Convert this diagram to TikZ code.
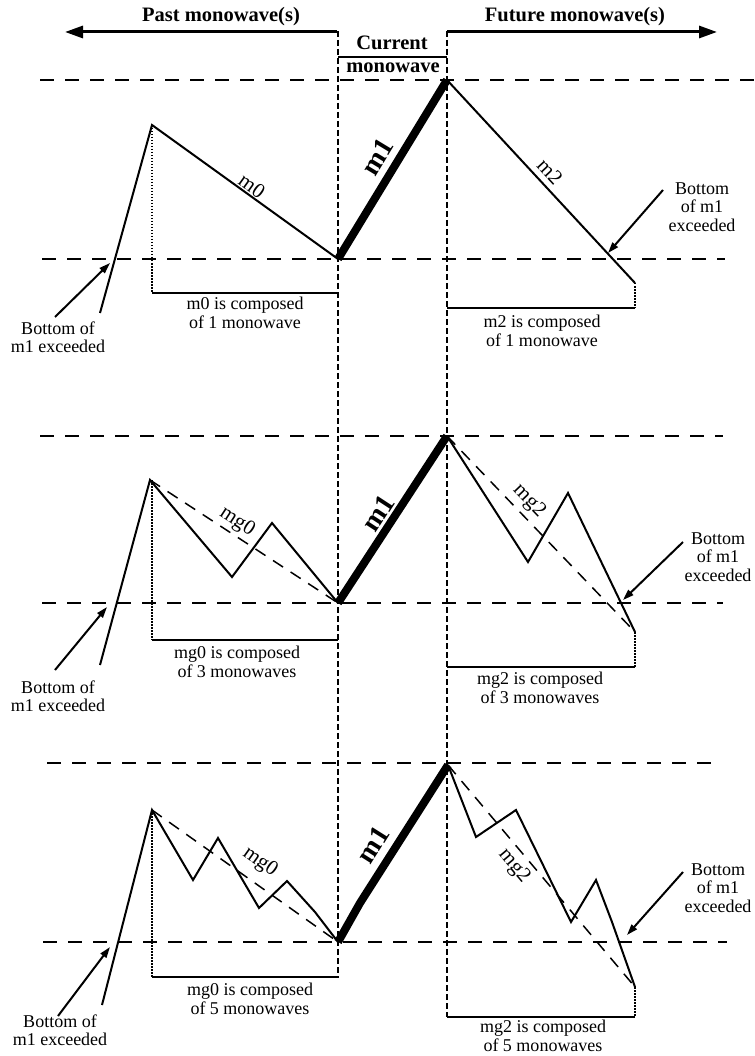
\documentclass[tikz,border=0pt]{standalone}
\usepackage{fontspec}
\setmainfont{Liberation Serif}
\usetikzlibrary{arrows.meta}
\tikzset{
  hdr/.style={font=\bfseries\fontsize{20.5}{21}\selectfont, inner sep=0pt},
  txt/.style={font=\fontsize{18}{18.5}\selectfont, align=center, inner sep=0pt},
  wl/.style={font=\fontsize{21}{21}\selectfont, inner sep=0pt},
  ml/.style={font=\bfseries\fontsize{28}{28}\selectfont, inner sep=0pt},
  hd/.style={line width=1.8pt, dash pattern=on 14pt off 11pt},
  vd/.style={line width=1.6pt, dash pattern=on 6pt off 3pt},
  dt/.style={line width=1.6pt, dash pattern=on 1.5pt off 1.5pt},
  wave/.style={line width=2pt, line join=miter},
  mone/.style={line width=8pt},
  md/.style={line width=1.5pt, dash pattern=on 12pt off 9pt},
  br/.style={line width=1.8pt},
  ann/.style={line width=2pt, -{Triangle[length=11pt,width=7pt]}},
  harrow/.style={line width=3pt, -{Triangle[length=18pt,width=12pt]}}
}
\begin{document}
\begin{tikzpicture}[x=1pt,y=-1pt]
\useasboundingbox (0,0) rectangle (754,1056);
% ---------------- header
\coordinate (LA) at (337,32); \coordinate (LT) at (65,32);
\coordinate (RA) at (447,32); \coordinate (RT) at (717,32);
\node[hdr] (past) at (221,17) {Past monowave(s)};
\node[hdr] (fut) at (575,17) {Future monowave(s)};
\node[hdr] (cur) at (392,43) {Current};
\node[hdr] (curm) at (393,68) {monowave};
\draw[harrow] (LA) -- (LT);
\draw[harrow] (RA) -- (RT);
\coordinate (CB1) at (338,57); \coordinate (CB2) at (447,57);
\draw[br] (CB1) -- (CB2);
\coordinate (VL1) at (338,31); \coordinate (VL2) at (338,978);
\coordinate (VR1) at (447,31); \coordinate (VR2) at (447,1017);
\draw[vd] (VL1) -- (VL2);
\draw[vd] (VR1) -- (VR2);

% ---------------- panel 1
\coordinate (t1a) at (40,80); \coordinate (t1b) at (754,80);
\coordinate (b1a) at (42,259); \coordinate (b1b) at (725,259);
\draw[hd] (t1a) -- (t1b);
\draw[hd] (b1a) -- (b1b);
\coordinate (p1s) at (100,313); \coordinate (p1a) at (152,125);
\coordinate (p1b) at (338,259); \coordinate (p1c) at (447,80);
\coordinate (p1d) at (635,283);
\draw[wave] (p1s) -- (p1a) -- (p1b);
\draw[wave] (p1c) -- (p1d);
\draw[mone] (p1b) -- (p1c);
\node[ml, rotate=58.8] (m1a) at (377,157) {m1};
\node[wl, rotate=-35.8] (m0a) at (252,186) {m0};
\node[wl, rotate=-47.2] (m2a) at (550,172) {m2};
\coordinate (d1a) at (152,293); \coordinate (d1b) at (338,293);
\draw[dt] (p1a) -- (d1a);
\draw[br] (d1a) -- (d1b);
\coordinate (e1a) at (635,308); \coordinate (e1b) at (447,308);
\draw[dt] (p1d) -- (e1a);
\draw[br] (e1a) -- (e1b);
\node[txt] (c1a) at (245,313) {m0 is composed\\of 1 monowave};
\node[txt] (c1b) at (542,331) {m2 is composed\\of 1 monowave};
\node[txt] (bl1) at (58,337) {Bottom of\\m1 exceeded};
\node[txt] (br1) at (702,207) {Bottom\\of m1\\exceeded};
\coordinate (a1s) at (55,317); \coordinate (a1e) at (110,263);
\draw[ann] (a1s) -- (a1e);
\coordinate (a2s) at (663,190); \coordinate (a2e) at (608,253);
\draw[ann] (a2s) -- (a2e);

% ---------------- panel 2
\coordinate (t2a) at (40,436); \coordinate (t2b) at (723,436);
\coordinate (b2a) at (42,603); \coordinate (b2b) at (723,603);
\draw[hd] (t2a) -- (t2b);
\draw[hd] (b2a) -- (b2b);
\coordinate (q0) at (100,665); \coordinate (q1) at (150,480);
\coordinate (q2) at (232,577); \coordinate (q3) at (272,523);
\coordinate (q4) at (338,603); \coordinate (q5) at (447,436);
\coordinate (q6) at (528,562); \coordinate (q7) at (568,493);
\coordinate (q8) at (635,632);
\draw[wave] (q0) -- (q1) -- (q2) -- (q3) -- (q4);
\draw[wave] (q5) -- (q6) -- (q7) -- (q8);
\draw[md] (q1) -- (q4);
\draw[md] (q5) -- (q8);
\draw[mone] (q4) -- (q5);
\node[ml, rotate=56.9] (m1b) at (378,513) {m1};
\node[wl, rotate=-33.2] (mg0b) at (237,522) {mg0};
\node[wl, rotate=-46.2] (mg2b) at (529,501) {mg2};
\coordinate (d2t) at (152,480);
\coordinate (d2a) at (152,640); \coordinate (d2b) at (338,640);
\draw[dt] (d2t) -- (d2a);
\draw[br] (d2a) -- (d2b);
\coordinate (e2a) at (635,667); \coordinate (e2b) at (447,667);
\draw[dt] (q8) -- (e2a);
\draw[br] (e2a) -- (e2b);
\node[txt] (c2a) at (237,662) {mg0 is composed\\of 3 monowaves};
\node[txt] (c2b) at (540,688) {mg2 is composed\\of 3 monowaves};
\node[txt] (bl2) at (58,696) {Bottom of\\m1 exceeded};
\node[txt] (br2) at (718,557) {Bottom\\of m1\\exceeded};
\coordinate (a3s) at (55,670); \coordinate (a3e) at (107,607);
\draw[ann] (a3s) -- (a3e);
\coordinate (a4s) at (683,542); \coordinate (a4e) at (623,600);
\draw[ann] (a4s) -- (a4e);

% ---------------- panel 3
\coordinate (t3a) at (47,763); \coordinate (t3b) at (720,763);
\coordinate (b3a) at (43,942); \coordinate (b3b) at (727,942);
\draw[hd] (t3a) -- (t3b);
\draw[hd] (b3a) -- (b3b);
\coordinate (r0) at (102,1005); \coordinate (r1) at (152,810);
\coordinate (r2) at (193,880); \coordinate (r3) at (218,838);
\coordinate (r4) at (259,908); \coordinate (r5) at (287,881);
\coordinate (r6) at (315,912); \coordinate (r7) at (338,942);
\coordinate (rm) at (360,903);
\coordinate (s0) at (448,765); \coordinate (s1) at (476,837);
\coordinate (s2) at (516,810); \coordinate (s3) at (571,922);
\coordinate (s4) at (596,880); \coordinate (s5) at (612,922);
\coordinate (s6) at (635,987);
\draw[wave] (r0) -- (r1) -- (r2) -- (r3) -- (r4) -- (r5) -- (r6) -- (r7);
\draw[wave] (s0) -- (s1) -- (s2) -- (s3) -- (s4) -- (s5) -- (s6);
\draw[md] (r1) -- (r7);
\draw[md] (s0) -- (s6);
\draw[mone] (r7) -- (rm) -- (s0);
\node[ml, rotate=57.8] (m1c) at (373,845) {m1};
\node[wl, rotate=-35.4] (mg0c) at (260,862) {mg0};
\node[wl, rotate=-50] (mg2c) at (514,866) {mg2};
\coordinate (d3a) at (152,977); \coordinate (d3b) at (338,977);
\draw[dt] (r1) -- (d3a);
\draw[br] (d3a) -- (d3b);
\coordinate (e3a) at (635,1017); \coordinate (e3b) at (447,1017);
\draw[dt] (s6) -- (e3a);
\draw[br] (e3a) -- (e3b);
\node[txt] (c3a) at (250,999) {mg0 is composed\\of 5 monowaves};
\node[txt] (c3b) at (543,1036) {mg2 is composed\\of 5 monowaves};
\node[txt] (bl3) at (60,1030) {Bottom of\\m1 exceeded};
\node[txt] (br3) at (718,888) {Bottom\\of m1\\exceeded};
\coordinate (a5s) at (58,1016); \coordinate (a5e) at (110,947);
\draw[ann] (a5s) -- (a5e);
\coordinate (a6s) at (683,872); \coordinate (a6e) at (627,935);
\draw[ann] (a6s) -- (a6e);
\end{tikzpicture}
\end{document}
